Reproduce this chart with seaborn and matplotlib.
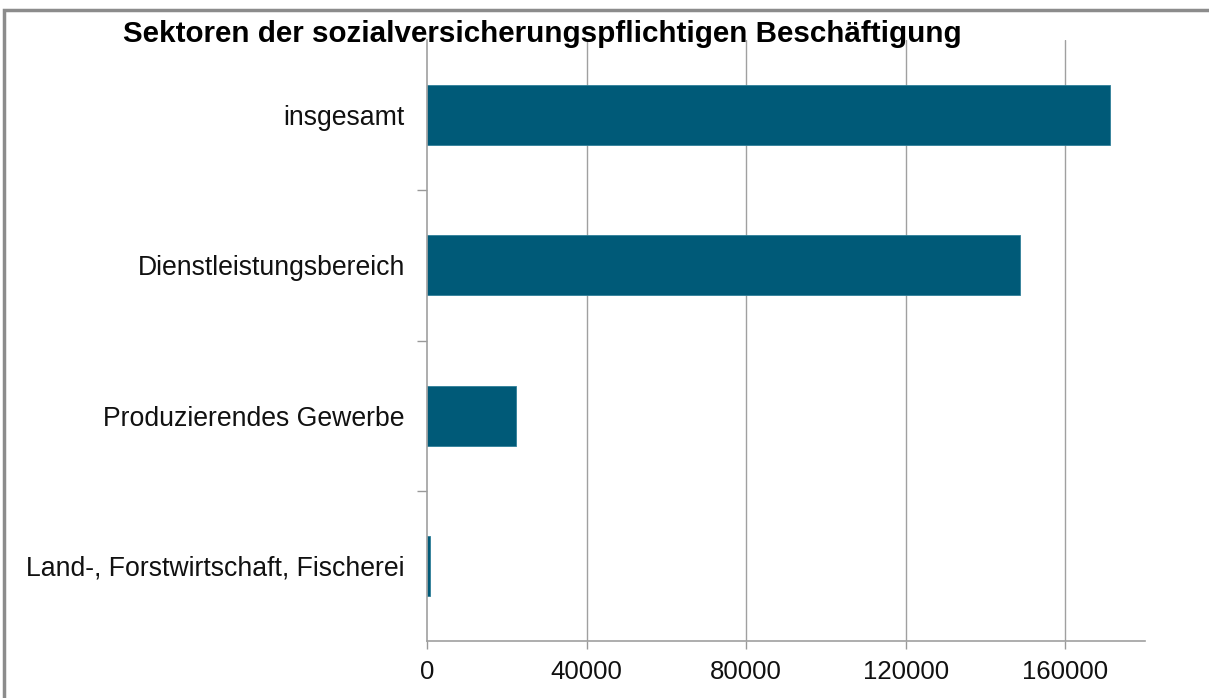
import matplotlib
matplotlib.use("Agg")
import matplotlib.pyplot as plt
import seaborn as sns
import pandas as pd
from matplotlib.patches import Rectangle

categories = ["insgesamt", "Dienstleistungsbereich", "Produzierendes Gewerbe",
              "Land-, Forstwirtschaft, Fischerei"]
values = [171300, 148600, 22200, 700]
x_ticks = [0, 40000, 80000, 120000, 160000]
title = "Sektoren der sozialversicherungspflichtigen Beschäftigung"

sns.set_theme(style="white")
plt.rcParams['font.family'] = ['Liberation Sans', 'DejaVu Sans']

df = pd.DataFrame({"Sektor": categories, "Wert": values})

fig = plt.figure(figsize=(12.09, 6.98), dpi=100)
ax = fig.add_axes([427/1209, 1-641/698, (1145-427)/1209, (641-40)/698])

sns.barplot(data=df, x="Wert", y="Sektor", orient="h", color="#005a78",
            saturation=1, width=0.4, ax=ax, edgecolor="#2f7f99", linewidth=0.6)

ax.set_xlim(0, 180000)
ax.set_ylim(3.5, -0.5)
ax.set_xticks(x_ticks)
ax.set_xticklabels([str(t) for t in x_ticks], fontsize=18.5, color="#111111")
ax.set_yticks(range(len(categories)))
ax.set_yticklabels(categories, fontsize=19.2, color="#111111")
ax.set_yticks([0.5, 1.5, 2.5], minor=True)
ax.tick_params(axis="y", which="major", length=0, pad=16)
ax.tick_params(axis="y", which="minor", length=7, color="#999999", width=1, left=True)
ax.tick_params(axis="x", which="major", length=6, color="#999999", width=1, bottom=True, pad=8)
ax.set_xlabel("")
ax.set_ylabel("")
ax.grid(False)
for t in x_ticks[1:]:
    ax.axvline(t, color="#a0a0a0", linewidth=1, zorder=0)

for s in ["top", "right"]:
    ax.spines[s].set_visible(False)
for s in ["left", "bottom"]:
    ax.spines[s].set_color("#a0a0a0")
    ax.spines[s].set_linewidth(1.2)

fig.text(123/1209, 1-42/698, title, fontsize=21.3, fontweight="bold",
         ha="left", va="baseline", color="#000000")

fig.patches.append(Rectangle((4/1209, -0.1), 1.2, 1-10/698+0.1, transform=fig.transFigure,
                             fill=False, edgecolor="#8c8c8c", linewidth=2.5))

fig.savefig("out.png", dpi=100)
